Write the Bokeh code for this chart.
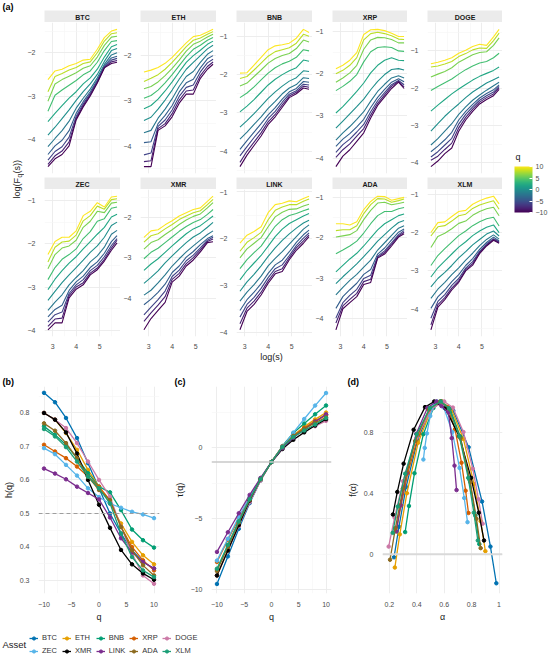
import numpy as np
from bokeh.plotting import figure
from bokeh.models import (Range1d, FixedTicker, Span, Legend, LegendItem,
                          ColorBar, LinearColorMapper)
from bokeh.layouts import row, column
from bokeh.palettes import Viridis256, viridis
from bokeh.embed import file_html
from bokeh.resources import INLINE
from bokeh.core.properties import value

FONT = "Liberation Sans"

# ---------------- panel (a): log(F_q(s)) vs log(s) ----------------
LOG_S = [2.8, 3.1, 3.4, 3.7, 4.0, 4.3, 4.6, 4.9, 5.2, 5.5, 5.74]
Q_LINES = [10, 8, 6, 4, 2, 0, -2, -4, -6, -8, -10]

F_BTC = [
    [-2.62, -2.42, -2.38, -2.30, -2.25, -2.17, -2.15, -1.92, -1.65, -1.50, -1.46],
    [-2.90, -2.55, -2.48, -2.40, -2.34, -2.25, -2.21, -2.00, -1.73, -1.56, -1.54],
    [-3.12, -2.72, -2.62, -2.54, -2.46, -2.36, -2.30, -2.10, -1.83, -1.64, -1.62],
    [-3.35, -2.98, -2.86, -2.75, -2.64, -2.51, -2.42, -2.22, -1.95, -1.74, -1.72],
    [-3.59, -3.40, -3.22, -3.05, -2.90, -2.72, -2.58, -2.38, -2.10, -1.86, -1.81],
    [-3.90, -3.72, -3.52, -3.32, -3.10, -2.90, -2.72, -2.50, -2.20, -1.95, -1.90],
    [-4.17, -3.98, -3.80, -3.58, -3.28, -3.05, -2.84, -2.58, -2.27, -2.05, -2.00],
    [-4.35, -4.15, -4.02, -3.80, -3.40, -3.13, -2.90, -2.63, -2.31, -2.12, -2.08],
    [-4.48, -4.28, -4.17, -3.95, -3.47, -3.18, -2.94, -2.66, -2.33, -2.17, -2.13],
    [-4.58, -4.38, -4.27, -4.06, -3.52, -3.22, -2.97, -2.68, -2.34, -2.21, -2.18],
    [-4.63, -4.45, -4.35, -4.15, -3.55, -3.25, -3.00, -2.70, -2.35, -2.25, -2.22],
]
F_ETH = [
    [-2.36, -2.32, -2.26, -2.17, -2.04, -1.88, -1.72, -1.58, -1.55, -1.48, -1.42],
    [-2.57, -2.50, -2.42, -2.30, -2.15, -1.98, -1.80, -1.66, -1.61, -1.53, -1.47],
    [-2.73, -2.68, -2.58, -2.44, -2.28, -2.10, -1.90, -1.75, -1.68, -1.59, -1.53],
    [-2.94, -2.88, -2.76, -2.60, -2.42, -2.22, -2.02, -1.86, -1.77, -1.66, -1.60],
    [-3.17, -3.10, -2.96, -2.78, -2.58, -2.36, -2.15, -2.00, -1.88, -1.75, -1.68],
    [-3.43, -3.36, -3.18, -2.98, -2.76, -2.52, -2.30, -2.15, -2.00, -1.85, -1.77],
    [-3.70, -3.65, -3.38, -3.18, -2.95, -2.68, -2.46, -2.35, -2.15, -1.97, -1.89],
    [-3.92, -3.90, -3.50, -3.32, -3.10, -2.80, -2.60, -2.52, -2.27, -2.07, -2.00],
    [-4.19, -4.15, -3.56, -3.42, -3.20, -2.90, -2.70, -2.65, -2.36, -2.16, -2.08],
    [-4.34, -4.32, -3.61, -3.50, -3.28, -2.98, -2.78, -2.76, -2.44, -2.24, -2.14],
    [-4.45, -4.45, -3.65, -3.55, -3.35, -3.05, -2.85, -2.85, -2.50, -2.30, -2.19],
]
F_BNB = [
    [-1.96, -1.95, -1.75, -1.55, -1.35, -1.25, -1.22, -1.18, -1.05, -0.82, -0.90],
    [-2.10, -2.05, -1.88, -1.70, -1.52, -1.40, -1.35, -1.30, -1.18, -0.95, -1.00],
    [-2.30, -2.22, -2.05, -1.88, -1.70, -1.58, -1.50, -1.45, -1.32, -1.10, -1.15],
    [-2.60, -2.48, -2.32, -2.14, -1.96, -1.82, -1.72, -1.65, -1.55, -1.35, -1.38],
    [-2.97, -2.82, -2.65, -2.46, -2.27, -2.12, -2.00, -1.90, -1.82, -1.62, -1.65],
    [-3.37, -3.20, -3.02, -2.82, -2.62, -2.45, -2.30, -2.17, -2.08, -1.90, -1.92],
    [-3.68, -3.50, -3.30, -3.10, -2.88, -2.70, -2.50, -2.35, -2.26, -2.08, -2.10],
    [-3.95, -3.72, -3.50, -3.28, -3.05, -2.86, -2.64, -2.45, -2.36, -2.18, -2.20],
    [-4.12, -3.88, -3.64, -3.42, -3.15, -2.96, -2.72, -2.51, -2.42, -2.25, -2.27],
    [-4.29, -4.00, -3.76, -3.52, -3.23, -3.04, -2.79, -2.56, -2.46, -2.30, -2.33],
    [-4.40, -4.10, -3.85, -3.60, -3.30, -3.10, -2.85, -2.60, -2.50, -2.35, -2.38],
]
F_XRP = [
    [-1.88, -1.80, -1.68, -1.50, -1.07, -0.96, -0.95, -0.98, -1.04, -1.12, -1.12],
    [-2.00, -1.92, -1.80, -1.62, -1.20, -1.05, -1.02, -1.05, -1.10, -1.18, -1.19],
    [-2.20, -2.10, -1.98, -1.80, -1.42, -1.20, -1.14, -1.15, -1.19, -1.27, -1.27],
    [-2.40, -2.30, -2.18, -2.02, -1.72, -1.48, -1.38, -1.36, -1.38, -1.46, -1.47],
    [-2.93, -2.78, -2.60, -2.42, -2.22, -1.98, -1.80, -1.68, -1.62, -1.68, -1.69],
    [-3.29, -3.12, -2.95, -2.78, -2.60, -2.38, -2.18, -2.02, -1.90, -1.88, -1.91],
    [-3.57, -3.40, -3.25, -3.08, -2.90, -2.65, -2.42, -2.25, -2.10, -2.05, -2.10],
    [-3.72, -3.55, -3.42, -3.26, -3.08, -2.80, -2.56, -2.37, -2.20, -2.12, -2.19],
    [-3.86, -3.68, -3.55, -3.38, -3.20, -2.90, -2.64, -2.45, -2.26, -2.16, -2.26],
    [-3.98, -3.80, -3.66, -3.48, -3.30, -2.98, -2.70, -2.50, -2.30, -2.18, -2.31],
    [-4.20, -3.95, -3.80, -3.60, -3.40, -3.05, -2.75, -2.55, -2.35, -2.20, -2.35],
]
F_DOGE = [
    [-1.34, -1.30, -1.25, -1.18, -1.06, -0.98, -0.88, -0.82, -0.85, -0.62, -0.42],
    [-1.43, -1.40, -1.35, -1.28, -1.15, -1.07, -0.97, -0.92, -0.93, -0.72, -0.52],
    [-1.70, -1.62, -1.55, -1.45, -1.30, -1.20, -1.10, -1.04, -1.02, -0.85, -0.65],
    [-2.06, -1.95, -1.85, -1.75, -1.62, -1.50, -1.40, -1.32, -1.28, -1.18, -1.06],
    [-2.61, -2.45, -2.30, -2.15, -2.02, -1.90, -1.78, -1.68, -1.60, -1.52, -1.43],
    [-3.15, -2.95, -2.75, -2.58, -2.42, -2.25, -2.10, -1.98, -1.86, -1.77, -1.70],
    [-3.52, -3.35, -3.15, -2.95, -2.70, -2.50, -2.32, -2.18, -2.05, -1.93, -1.84],
    [-3.70, -3.55, -3.38, -3.18, -2.85, -2.62, -2.43, -2.26, -2.14, -2.04, -1.91],
    [-3.84, -3.70, -3.52, -3.34, -2.96, -2.70, -2.50, -2.32, -2.20, -2.10, -1.95],
    [-3.93, -3.82, -3.64, -3.47, -3.06, -2.78, -2.56, -2.37, -2.25, -2.15, -1.98],
    [-4.10, -3.95, -3.75, -3.60, -3.15, -2.85, -2.62, -2.42, -2.30, -2.20, -2.03],
]
F_ZEC = [
    [-2.25, -1.95, -1.85, -1.85, -1.70, -1.35, -1.25, -1.05, -1.15, -0.92, -0.90],
    [-2.42, -2.08, -1.96, -1.94, -1.80, -1.47, -1.35, -1.13, -1.20, -0.98, -0.96],
    [-2.58, -2.25, -2.10, -2.05, -1.92, -1.62, -1.48, -1.25, -1.28, -1.06, -1.04],
    [-2.83, -2.55, -2.36, -2.25, -2.12, -1.88, -1.72, -1.48, -1.42, -1.18, -1.15],
    [-3.06, -2.82, -2.62, -2.45, -2.30, -2.12, -1.95, -1.78, -1.62, -1.38, -1.32],
    [-3.31, -3.10, -2.90, -2.72, -2.55, -2.38, -2.20, -2.05, -1.85, -1.58, -1.50],
    [-3.54, -3.35, -3.18, -2.95, -2.78, -2.62, -2.42, -2.28, -2.08, -1.78, -1.69],
    [-3.69, -3.52, -3.42, -3.08, -2.88, -2.75, -2.55, -2.42, -2.22, -1.95, -1.81],
    [-3.81, -3.64, -3.58, -3.15, -2.95, -2.83, -2.62, -2.50, -2.30, -2.04, -1.88],
    [-3.91, -3.74, -3.72, -3.20, -3.00, -2.90, -2.68, -2.56, -2.36, -2.10, -1.92],
    [-3.99, -3.83, -3.83, -3.25, -3.05, -2.95, -2.72, -2.60, -2.40, -2.15, -1.98],
]
F_XMR = [
    [-2.49, -2.33, -2.30, -2.18, -2.08, -1.96, -1.88, -1.80, -1.76, -1.60, -1.47],
    [-2.61, -2.45, -2.40, -2.28, -2.17, -2.05, -1.96, -1.88, -1.83, -1.68, -1.55],
    [-2.78, -2.62, -2.55, -2.42, -2.30, -2.17, -2.06, -1.97, -1.91, -1.76, -1.63],
    [-3.02, -2.86, -2.76, -2.62, -2.48, -2.34, -2.22, -2.12, -2.05, -1.92, -1.80],
    [-3.31, -3.15, -3.02, -2.86, -2.70, -2.55, -2.40, -2.28, -2.20, -2.07, -1.96],
    [-3.63, -3.48, -3.32, -3.12, -2.95, -2.78, -2.62, -2.48, -2.38, -2.24, -2.12],
    [-3.92, -3.80, -3.62, -3.42, -3.20, -3.02, -2.85, -2.70, -2.56, -2.42, -2.33],
    [-4.16, -4.02, -3.85, -3.65, -3.36, -3.20, -2.98, -2.84, -2.67, -2.52, -2.45],
    [-4.41, -4.22, -4.03, -3.82, -3.46, -3.30, -3.07, -2.93, -2.75, -2.56, -2.49],
    [-4.57, -4.36, -4.17, -3.96, -3.53, -3.38, -3.14, -2.99, -2.80, -2.59, -2.53],
    [-4.78, -4.50, -4.30, -4.10, -3.60, -3.45, -3.20, -3.05, -2.85, -2.62, -2.60],
]
F_LINK = [
    [-2.10, -1.93, -1.85, -1.75, -1.45, -1.28, -1.25, -1.20, -1.22, -1.15, -1.10],
    [-2.27, -2.08, -1.98, -1.87, -1.60, -1.40, -1.33, -1.28, -1.28, -1.21, -1.16],
    [-2.41, -2.22, -2.10, -1.98, -1.75, -1.54, -1.44, -1.38, -1.37, -1.31, -1.27],
    [-2.64, -2.45, -2.30, -2.16, -1.95, -1.74, -1.60, -1.51, -1.47, -1.41, -1.37],
    [-2.88, -2.68, -2.52, -2.36, -2.16, -1.96, -1.80, -1.68, -1.60, -1.52, -1.47],
    [-3.12, -2.92, -2.76, -2.58, -2.38, -2.20, -2.04, -1.90, -1.78, -1.67, -1.61],
    [-3.33, -3.14, -2.98, -2.80, -2.58, -2.42, -2.28, -2.12, -1.96, -1.80, -1.71],
    [-3.53, -3.30, -3.14, -2.96, -2.74, -2.56, -2.46, -2.28, -2.08, -1.92, -1.82],
    [-3.67, -3.40, -3.25, -3.06, -2.83, -2.64, -2.56, -2.36, -2.15, -1.99, -1.88],
    [-3.81, -3.48, -3.33, -3.14, -2.90, -2.70, -2.64, -2.41, -2.20, -2.05, -1.92],
    [-3.94, -3.55, -3.40, -3.20, -2.95, -2.75, -2.70, -2.45, -2.25, -2.10, -1.96],
]
F_ADA = [
    [-1.65, -1.65, -1.68, -1.60, -1.30, -1.10, -0.97, -0.98, -1.07, -1.03, -1.00],
    [-1.82, -1.80, -1.80, -1.70, -1.40, -1.18, -1.03, -1.04, -1.12, -1.08, -1.04],
    [-1.98, -1.95, -1.92, -1.82, -1.55, -1.32, -1.14, -1.12, -1.18, -1.15, -1.12],
    [-2.39, -2.30, -2.20, -2.08, -1.88, -1.65, -1.45, -1.35, -1.35, -1.28, -1.25],
    [-2.84, -2.68, -2.52, -2.38, -2.20, -2.00, -1.80, -1.65, -1.55, -1.45, -1.41],
    [-3.13, -2.96, -2.80, -2.64, -2.46, -2.28, -2.08, -1.92, -1.76, -1.62, -1.57],
    [-3.41, -3.22, -3.05, -2.90, -2.72, -2.55, -2.30, -2.12, -1.94, -1.76, -1.70],
    [-3.74, -3.45, -3.28, -3.12, -2.90, -2.78, -2.40, -2.25, -2.05, -1.86, -1.78],
    [-3.98, -3.60, -3.42, -3.27, -3.00, -2.92, -2.45, -2.32, -2.12, -1.92, -1.82],
    [-4.10, -3.68, -3.52, -3.37, -3.08, -3.02, -2.48, -2.36, -2.16, -1.95, -1.86],
    [-4.27, -3.75, -3.60, -3.45, -3.15, -3.10, -2.50, -2.40, -2.20, -1.98, -1.90],
]
F_XLM = [
    [-2.00, -1.74, -1.72, -1.58, -1.45, -1.42, -1.26, -1.17, -1.10, -1.05, -1.25],
    [-2.09, -1.85, -1.82, -1.70, -1.56, -1.52, -1.37, -1.28, -1.22, -1.17, -1.39],
    [-2.39, -2.10, -2.02, -1.90, -1.76, -1.70, -1.55, -1.45, -1.38, -1.34, -1.56],
    [-2.86, -2.60, -2.42, -2.25, -2.08, -1.96, -1.82, -1.72, -1.64, -1.60, -1.83],
    [-3.16, -2.92, -2.74, -2.56, -2.38, -2.24, -2.08, -1.96, -1.86, -1.80, -2.00],
    [-3.42, -3.20, -3.04, -2.86, -2.66, -2.50, -2.32, -2.18, -2.04, -1.96, -2.09],
    [-3.72, -3.48, -3.30, -3.10, -2.92, -2.72, -2.54, -2.34, -2.18, -2.06, -2.17],
    [-3.98, -3.68, -3.50, -3.28, -3.10, -2.86, -2.68, -2.44, -2.26, -2.12, -2.22],
    [-4.24, -3.80, -3.62, -3.38, -3.20, -2.93, -2.76, -2.49, -2.30, -2.16, -2.24],
    [-4.41, -3.88, -3.70, -3.45, -3.26, -2.97, -2.81, -2.52, -2.33, -2.18, -2.26],
    [-4.54, -3.95, -3.75, -3.50, -3.30, -3.00, -2.85, -2.55, -2.35, -2.20, -2.28],
]

ROW1 = ["BTC", "ETH", "BNB", "XRP", "DOGE"]
ROW2 = ["ZEC", "XMR", "LINK", "ADA", "XLM"]
FACETS = {"BTC": F_BTC, "ETH": F_ETH, "BNB": F_BNB, "XRP": F_XRP, "DOGE": F_DOGE,
          "ZEC": F_ZEC, "XMR": F_XMR, "LINK": F_LINK, "ADA": F_ADA, "XLM": F_XLM}

# ---------------- panels (b), (c), (d) ----------------
Q = [-10, -8, -6, -4, -2, 0, 2, 4, 6, 8, 10]
ASSETS = ["BTC", "ETH", "BNB", "XRP", "DOGE", "ZEC", "XMR", "LINK", "ADA", "XLM"]
COLORS = ["#0072B2", "#E69F00", "#009E73", "#D55E00", "#CC79A7",
          "#56B4E9", "#000000", "#7B2D8E", "#8C6A1F", "#1A9E76"]

H_BTC = [0.86, 0.832, 0.785, 0.725, 0.65, 0.575, 0.50, 0.44, 0.39, 0.355, 0.335]
H_ETH = [0.80, 0.78, 0.74, 0.69, 0.63, 0.58, 0.53, 0.47, 0.415, 0.375, 0.348]
H_BNB = [0.76, 0.735, 0.705, 0.665, 0.62, 0.58, 0.563, 0.51, 0.452, 0.42, 0.398]
H_XRP = [0.705, 0.685, 0.665, 0.64, 0.61, 0.58, 0.54, 0.46, 0.40, 0.36, 0.33]
H_DOGE = [0.80, 0.78, 0.755, 0.71, 0.655, 0.60, 0.55, 0.46, 0.38, 0.315, 0.29]
H_ZEC = [0.695, 0.677, 0.645, 0.613, 0.575, 0.549, 0.529, 0.517, 0.505, 0.497, 0.486]
H_XMR = [0.80, 0.78, 0.742, 0.679, 0.60, 0.526, 0.457, 0.391, 0.348, 0.321, 0.302]
H_LINK = [0.634, 0.619, 0.602, 0.58, 0.561, 0.542, 0.488, 0.426, 0.384, 0.355, 0.336]
H_ADA = [0.769, 0.747, 0.71, 0.665, 0.61, 0.57, 0.54, 0.46, 0.39, 0.345, 0.315]
H_XLM = [0.752, 0.73, 0.698, 0.655, 0.61, 0.575, 0.53, 0.44, 0.37, 0.33, 0.31]

TAU_BTC = [-9.6, -7.656, -5.71, -3.9, -2.3, -1.0, 0.0, 0.76, 1.34, 1.84, 2.35]
TAU_ETH = [-9.0, -7.24, -5.44, -3.76, -2.26, -1.0, 0.06, 0.88, 1.49, 2.0, 2.48]
TAU_BNB = [-8.6, -6.88, -5.23, -3.66, -2.24, -1.0, 0.126, 1.04, 1.712, 2.36, 2.98]
TAU_XRP = [-8.05, -6.48, -4.99, -3.56, -2.22, -1.0, 0.08, 0.84, 1.4, 1.88, 2.3]
TAU_DOGE = [-9.0, -7.24, -5.53, -3.84, -2.31, -1.0, 0.1, 0.84, 1.28, 1.52, 1.9]
TAU_ZEC = [-7.95, -6.416, -4.87, -3.452, -2.15, -1.0, 0.058, 1.068, 2.03, 2.976, 3.86]
TAU_XMR = [-9.0, -7.24, -5.452, -3.716, -2.2, -1.0, -0.086, 0.564, 1.088, 1.568, 2.02]
TAU_LINK = [-7.34, -5.952, -4.612, -3.32, -2.122, -1.0, -0.024, 0.704, 1.304, 1.84, 2.36]
TAU_ADA = [-8.69, -6.976, -5.26, -3.66, -2.22, -1.0, 0.08, 0.84, 1.34, 1.76, 2.15]
TAU_XLM = [-8.52, -6.84, -5.188, -3.62, -2.22, -1.0, 0.06, 0.76, 1.22, 1.64, 2.1]

ALPHA_BTC = [0.234, 0.270, 0.322, 0.405, 0.499, 0.575, 0.666, 0.778, 0.876, 0.937, 0.980]
FA_BTC = [-0.02, 0.18, 0.44, 0.745, 0.95, 1.0, 0.94, 0.70, 0.345, 0.05, -0.19]
ALPHA_ETH = [0.24, 0.276, 0.328, 0.41, 0.504, 0.58, 0.652, 0.74, 0.817, 0.866, 0.90]
FA_ETH = [-0.087, 0.13, 0.40, 0.73, 0.946, 1.0, 0.951, 0.755, 0.46, 0.216, 0.02]
ALPHA_BNB = [0.315, 0.343, 0.383, 0.448, 0.521, 0.58, 0.642, 0.718, 0.785, 0.827, 0.856]
FA_BNB = [0.145, 0.316, 0.53, 0.786, 0.957, 1.0, 0.953, 0.767, 0.486, 0.253, 0.066]
ALPHA_XRP = [0.25, 0.285, 0.335, 0.415, 0.506, 0.58, 0.624, 0.679, 0.726, 0.756, 0.777]
FA_XRP = [0.15, 0.32, 0.533, 0.788, 0.958, 1.0, 0.964, 0.818, 0.599, 0.416, 0.27]
ALPHA_DOGE = [0.195, 0.238, 0.30, 0.398, 0.509, 0.60, 0.663, 0.74, 0.808, 0.85, 0.88]
FA_DOGE = [0.05, 0.24, 0.478, 0.763, 0.953, 1.0, 0.96, 0.80, 0.56, 0.36, 0.20]
ALPHA_ZEC = [0.448, 0.458, 0.474, 0.498, 0.525, 0.547, 0.597, 0.659, 0.712, 0.746, 0.77]
FA_ZEC = [0.62, 0.696, 0.791, 0.905, 0.981, 1.0, 0.96, 0.80, 0.565, 0.368, 0.21]
ALPHA_XMR = [0.226, 0.258, 0.304, 0.377, 0.46, 0.527, 0.608, 0.709, 0.796, 0.852, 0.89]
FA_XMR = [0.26, 0.408, 0.593, 0.815, 0.963, 1.0, 0.955, 0.773, 0.50, 0.272, 0.09]
ALPHA_LINK = [0.25, 0.281, 0.326, 0.396, 0.477, 0.543, 0.58, 0.63, 0.655, 0.675, 0.69]
FA_LINK = [0.15, 0.32, 0.533, 0.788, 0.958, 1.0, 0.97, 0.93, 0.76, 0.58, 0.42]
ALPHA_ADA = [0.205, 0.244, 0.299, 0.388, 0.488, 0.57, 0.636, 0.718, 0.79, 0.835, 0.866]
FA_ADA = [-0.036, 0.171, 0.43, 0.741, 0.948, 1.0, 0.952, 0.76, 0.472, 0.232, 0.04]
ALPHA_XLM = [0.224, 0.261, 0.315, 0.399, 0.496, 0.575, 0.635, 0.71, 0.775, 0.816, 0.845]
FA_XLM = [0.14, 0.312, 0.527, 0.785, 0.957, 1.0, 0.955, 0.773, 0.50, 0.272, 0.09]

H_ALL = [H_BTC, H_ETH, H_BNB, H_XRP, H_DOGE, H_ZEC, H_XMR, H_LINK, H_ADA, H_XLM]
TAU_ALL = [TAU_BTC, TAU_ETH, TAU_BNB, TAU_XRP, TAU_DOGE, TAU_ZEC, TAU_XMR, TAU_LINK, TAU_ADA, TAU_XLM]
ALPHA_ALL = [ALPHA_BTC, ALPHA_ETH, ALPHA_BNB, ALPHA_XRP, ALPHA_DOGE, ALPHA_ZEC, ALPHA_XMR,
             ALPHA_LINK, ALPHA_ADA, ALPHA_XLM]
FA_ALL = [FA_BTC, FA_ETH, FA_BNB, FA_XRP, FA_DOGE, FA_ZEC, FA_XMR, FA_LINK, FA_ADA, FA_XLM]

VIR = viridis(11)
GRID = "#EBEBEB"
MINOR = "#F5F5F5"
TICKC = "#4D4D4D"


def style_axes(p):
    p.axis.axis_line_color = None
    p.axis.major_tick_line_color = None
    p.axis.minor_tick_line_color = None
    p.axis.major_label_text_font = FONT
    p.axis.major_label_text_font_size = "7px"
    p.axis.major_label_text_color = TICKC
    p.axis.major_label_standoff = 3
    p.axis.axis_label_text_font = FONT
    p.axis.axis_label_text_font_size = "9px"
    p.axis.axis_label_text_font_style = "normal"
    p.axis.axis_label_text_color = "#1A1A1A"
    p.axis.axis_label_standoff = 3
    p.grid.grid_line_color = GRID
    p.grid.grid_line_width = 0.9
    p.grid.minor_grid_line_color = MINOR
    p.grid.minor_grid_line_width = 0.6
    p.outline_line_color = None
    p.background_fill_color = "white"
    p.border_fill_color = "white"


def blank_fig(w, h):
    f = figure(width=w, height=h, x_range=Range1d(0, w), y_range=Range1d(0, h),
               x_axis_type=None, y_axis_type=None, output_backend="svg",
               toolbar_location=None, min_border=0)
    f.outline_line_color = None
    f.border_fill_color = "white"
    f.background_fill_color = "white"
    return f


def strip_fig(name, bl, w, top):
    s = figure(width=w, height=top + 12, x_range=Range1d(0, 1), y_range=Range1d(0, 1),
               x_axis_type=None, y_axis_type=None, output_backend="svg", toolbar_location=None,
               min_border_left=bl, min_border_right=0, min_border_top=top, min_border_bottom=0)
    s.outline_line_color = None
    s.background_fill_color = "#EBEBEB"
    s.border_fill_color = "white"
    s.text(x=[0.5], y=[0.45], text=[name], text_align="center", text_baseline="middle",
           text_font=value(FONT), text_font_style="bold", text_font_size="7px",
           text_color="#1A1A1A")
    return s


def facet_fig(name, bl, w, h, bottom):
    F = FACETS[name]
    ymin = min(min(r) for r in F)
    ymax = max(max(r) for r in F)
    pad = 0.05 * (ymax - ymin)
    p = figure(width=w, height=h, x_range=Range1d(2.653, 5.887),
               y_range=Range1d(ymin - pad, ymax + pad), output_backend="svg",
               toolbar_location=None, min_border_left=bl, min_border_right=0,
               min_border_top=0, min_border_bottom=bottom)
    xt = FixedTicker(ticks=[3, 4, 5], minor_ticks=[2.5, 3.5, 4.5, 5.5])
    yt = FixedTicker(ticks=[-5, -4, -3, -2, -1, 0],
                     minor_ticks=[-4.5, -3.5, -2.5, -1.5, -0.5])
    p.xaxis.ticker = xt
    p.xgrid.ticker = xt
    p.yaxis.ticker = yt
    p.ygrid.ticker = yt
    style_axes(p)
    p.xaxis.major_label_standoff = 1
    if bottom < 8:
        p.xaxis.visible = False
    cols = [VIR[(q + 10) // 2] for q in Q_LINES]
    p.multi_line(xs=[LOG_S] * len(F), ys=F, line_color=cols, line_width=1.1)
    return p


# ---- top section ----
GRID_H = 351
left = blank_fig(24, GRID_H)
left.text(x=[2], y=[GRID_H - 6], text=["(a)"], text_align="left", text_baseline="middle",
          text_font=value(FONT), text_font_style="bold", text_font_size="9px", text_color="black")
left.text(x=[16], y=[GRID_H - 198], text=["log(F"], angle=np.pi / 2, text_align="left",
          text_baseline="middle", text_font=value(FONT), text_font_size="9px", text_color="#1A1A1A")
left.text(x=[18.5], y=[GRID_H - 177], text=["q"], angle=np.pi / 2, text_align="left",
          text_baseline="middle", text_font=value(FONT), text_font_size="6.5px", text_color="#1A1A1A")
left.text(x=[16], y=[GRID_H - 173], text=["(s))"], angle=np.pi / 2, text_align="left",
          text_baseline="middle", text_font=value(FONT), text_font_size="9px", text_color="#1A1A1A")

WIDTHS = [96, 96, 96, 95, 95]
BORDERS = [14, 14, 14, 13, 13]
top_cols = []
for i in range(5):
    w, bl = WIDTHS[i], BORDERS[i]
    top_cols.append(column(
        strip_fig(ROW1[i], bl, w, 10),
        facet_fig(ROW1[i], bl, w, 155, 4),
        strip_fig(ROW2[i], bl, w, 0),
        facet_fig(ROW2[i], bl, w, 162, 10),
    ))

cbf = blank_fig(48, GRID_H)
mapper = LinearColorMapper(palette=Viridis256, low=-10, high=10)
cb = ColorBar(color_mapper=mapper, orientation="vertical", width=18, height=46,
              location=(12, 139), padding=0,
              ticker=FixedTicker(ticks=[-10, -5, 0, 5, 10]),
              major_label_text_font=FONT, major_label_text_font_size="7px",
              major_label_text_color=TICKC, label_standoff=3,
              major_tick_line_color="white", major_tick_in=3, major_tick_out=0,
              bar_line_color=None, border_line_color=None, background_fill_alpha=0)
cbf.add_layout(cb, "center")
cbf.text(x=[13], y=[GRID_H - 156], text=["q"], text_align="left", text_baseline="middle",
         text_font=value(FONT), text_font_size="9px", text_color="#1A1A1A")

# shared x-axis title of panel (a)
xlab = blank_fig(550, 14)
xlab.text(x=[271], y=[9], text=["log(s)"], text_align="center", text_baseline="middle",
          text_font=value(FONT), text_font_size="9px", text_color="#1A1A1A")

top = column(row(left, *top_cols, cbf), xlab)

# ---- bottom section ----
BOT_H = 259


def bottom_fig(w, bl, br, xr, yr, xlab_, ylab, tag, tag_off):
    p = figure(width=w, height=BOT_H, x_range=Range1d(*xr), y_range=Range1d(*yr),
               output_backend="svg", toolbar_location=None, min_border_left=bl,
               min_border_right=br, min_border_top=21, min_border_bottom=25, title=tag)
    style_axes(p)
    p.xaxis.axis_label = xlab_
    p.yaxis.axis_label = ylab
    p.xaxis.axis_label_standoff = 2
    p.xaxis.major_label_standoff = 2
    p.title.align = "left"
    p.title.offset = tag_off
    p.title.standoff = 0
    p.title.text_font = FONT
    p.title.text_font_size = "9px"
    p.title.text_font_style = "bold"
    p.title.text_color = "black"
    return p


pb = bottom_fig(163, 38, 4, (-11, 11), (0.261, 0.879), "q", "h(q)", "(b)", -36)
pb.xaxis.ticker = FixedTicker(ticks=[-10, -5, 0, 5, 10], minor_ticks=[-7.5, -2.5, 2.5, 7.5])
pb.yaxis.ticker = FixedTicker(ticks=[0.3, 0.4, 0.5, 0.6, 0.7, 0.8],
                              minor_ticks=[0.35, 0.45, 0.55, 0.65, 0.75, 0.85])
pb.add_layout(Span(location=0.5, dimension="width", line_color="#9E9E9E",
                   line_dash="4 3", line_width=1.1))

pc = bottom_fig(172, 48, 4, (-11, 11), (-10.27, 4.32), "q", "τ(q)", "(c)", -37)
pc.xaxis.ticker = FixedTicker(ticks=[-10, -5, 0, 5, 10], minor_ticks=[-7.5, -2.5, 2.5, 7.5])
pc.yaxis.ticker = FixedTicker(ticks=[-10, -5, 0], minor_ticks=[-7.5, -2.5, 2.5])
pc.add_layout(Span(location=-1, dimension="width", line_color="#C8C8C8", line_width=1.4))

pd = bottom_fig(215, 47, 48, (0.15, 1.025), (-0.257, 1.098), "α", "f(α)", "(d)", -35)
pd.xaxis.ticker = FixedTicker(ticks=[0.2, 0.4, 0.6, 0.8, 1.0], minor_ticks=[0.3, 0.5, 0.7, 0.9])
pd.yaxis.ticker = FixedTicker(ticks=[0.0, 0.4, 0.8], minor_ticks=[0.2, 0.6, 1.0])
pd.add_layout(Span(location=0, dimension="width", line_color="#D9D9D9", line_width=2))

for name, c, H, T, A, FA in zip(ASSETS, COLORS, H_ALL, TAU_ALL, ALPHA_ALL, FA_ALL):
    pb.line(Q, H, line_color=c, line_width=1.3)
    pb.scatter(Q, H, color=c, size=3.5)
    pc.line(Q, T, line_color=c, line_width=1.3)
    pc.scatter(Q, T, color=c, size=3.5)
    pd.line(A, FA, line_color=c, line_width=1.3)
    pd.scatter(A, FA, color=c, size=3.5)

bottom = row(pb, pc, pd)

# ---- legend ----
LEG_H = 35
pl = blank_fig(550, LEG_H)
items = []
for name, c in zip(ASSETS, COLORS):
    r1 = pl.line([-100, -90], [-100, -100], line_color=c, line_width=1.3)
    r2 = pl.scatter([-100], [-100], color=c, size=3.5)
    items.append(LegendItem(label=name, renderers=[r1, r2]))
leg = Legend(items=items, location=(29, 4), orientation="horizontal", ncols=5,
             glyph_width=9, glyph_height=8, label_standoff=4, label_width=16, label_height=8,
             spacing=4, padding=0, margin=0, border_line_color=None, background_fill_alpha=0,
             label_text_font=FONT, label_text_font_size="7.5px", label_text_color="#333333")
pl.add_layout(leg, "center")
pl.text(x=[2], y=[LEG_H - 20], text=["Asset"], text_align="left", text_baseline="middle",
        text_font=value(FONT), text_font_size="9.5px", text_color="#1A1A1A")

root = column(top, bottom, pl)

open("out.html", "w").write(file_html(root, INLINE))
